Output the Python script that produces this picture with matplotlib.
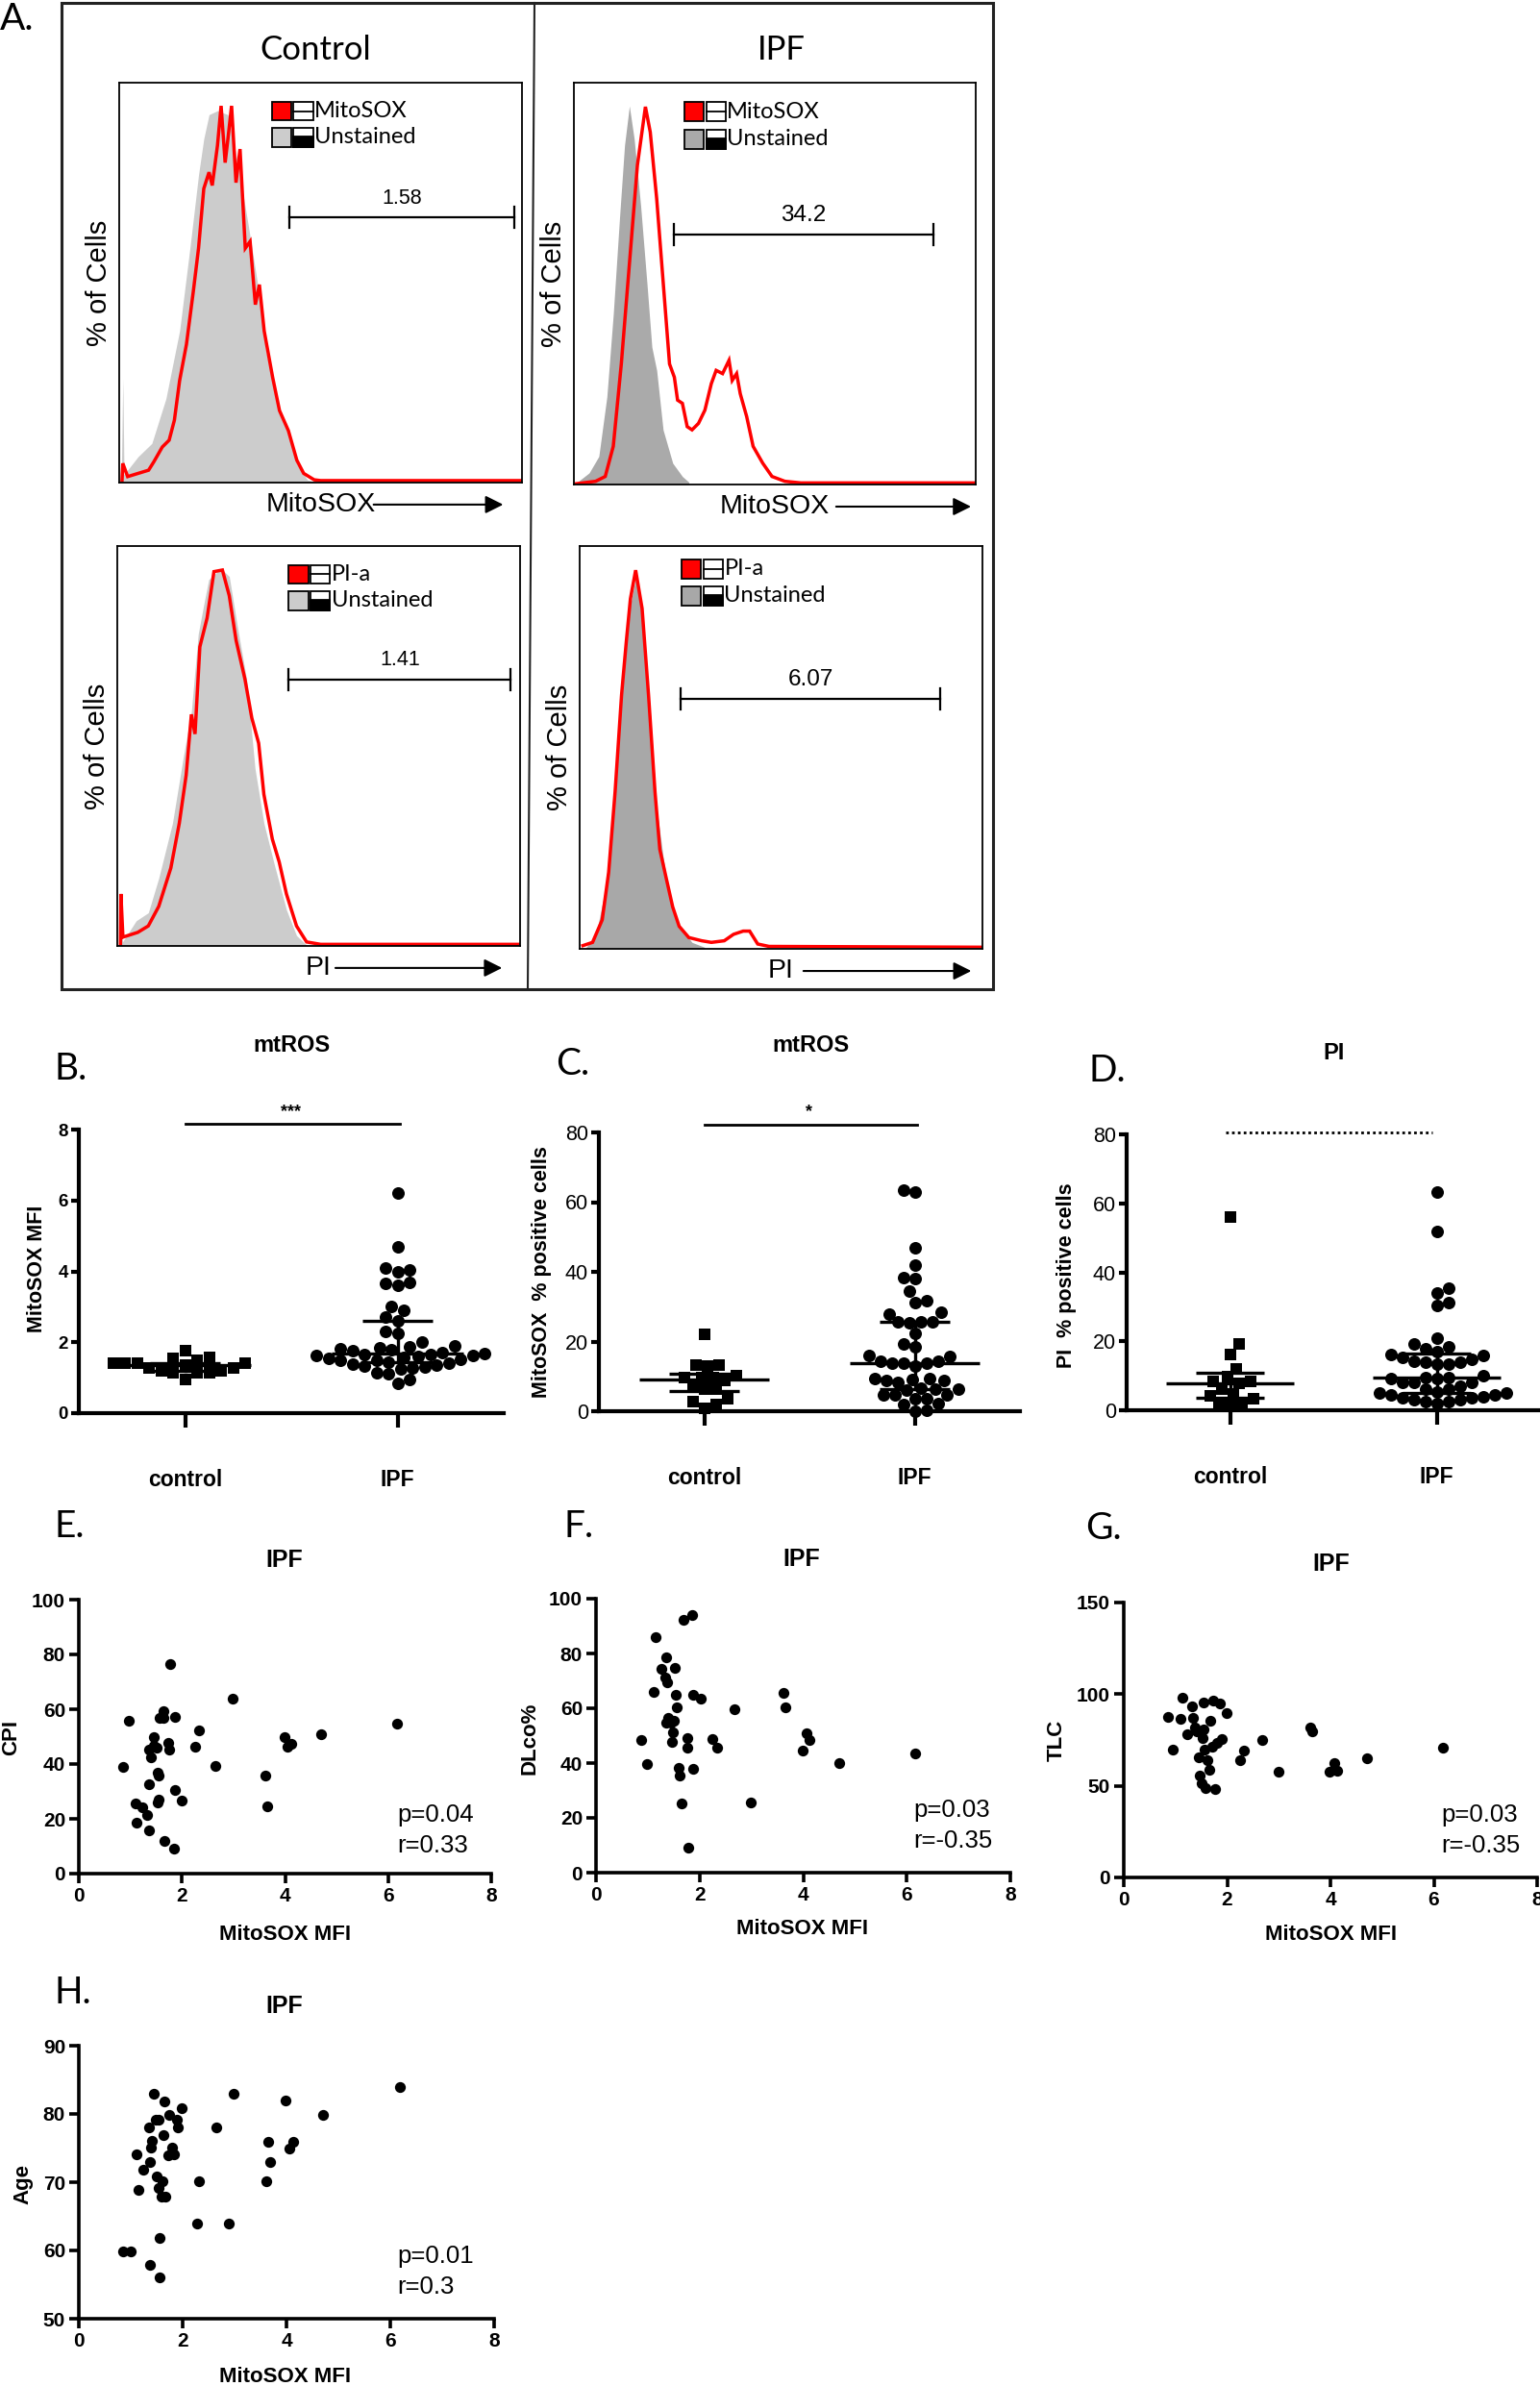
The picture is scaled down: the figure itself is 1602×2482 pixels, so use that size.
import numpy as np
import matplotlib.pyplot as plt
from matplotlib.patches import Rectangle
from matplotlib.lines import Line2D

plt.rcParams['font.family'] = 'Liberation Sans'

# ---------------- data ----------------
# flow histograms (channel % of axis, % of max)
ctrl_mito_grey_x = [0.5, 0.9, 1.2, 4.7, 8.1, 11.6, 15.0, 17.6, 19.7, 21.0, 22.3, 24.4, 27.0, 29.6, 32.1, 34.3, 36.4, 39.0, 41.6, 44.1, 46.7, 49.3]
ctrl_mito_grey_y = [0, 26, 2, 6.5, 9.8, 21, 38, 59, 77, 86, 92, 93, 92, 79, 64, 50, 33, 21, 13, 4.8, 0.7, 0]
ctrl_mito_red_x = [0.7, 0.9, 2.1, 4.7, 7.3, 8.6, 10.7, 12.4, 13.7, 15.0, 16.7, 18.4, 19.7, 21.0, 22.3, 23.1, 24.4, 25.3, 26.3, 27.0, 27.9, 29.0,
                   30.0, 31.3, 32.5, 33.8, 34.8, 36.0, 38.1, 39.8, 42.0, 44.1, 45.8, 48.4, 50.0, 99.8]
ctrl_mito_red_y = [0.5, 4.8, 1.5, 2.3, 3.1, 5.2, 8.9, 10.6, 15.6, 25.5, 34.6, 47.8, 58.6, 73.5, 77.6, 74.3, 84.3, 94.2, 80.0, 86.0, 94.2, 75.0,
                   83.4, 58.6, 60.3, 44.5, 49.5, 37.9, 26.3, 18.0, 13.0, 5.6, 2.3, 0.7, 0.5, 0.5]

ipf_mito_grey_x = [0.6, 3.8, 6.2, 8.2, 9.8, 11.4, 12.6, 13.8, 15.0, 16.6, 18.2, 19.4, 20.6, 22.2, 24.6, 27.0, 28.6]
ipf_mito_grey_y = [0.4, 2.9, 7.0, 21.8, 42.4, 67.0, 84.4, 94.2, 86.0, 69.5, 49.8, 34.2, 28.4, 13.6, 5.3, 2.0, 0.6]
ipf_mito_red_x = [0.6, 5.4, 7.8, 9.8, 11.8, 13.8, 15.8, 17.8, 19.0, 20.6, 22.2, 23.8, 25.0, 25.8, 27.0, 28.2, 29.4, 31.0, 32.6, 34.2, 35.4,
                  37.0, 38.6, 39.4, 40.5, 41.4, 43.0, 44.6, 47.0, 49.3, 52.5, 56.5, 99.6]
ipf_mito_red_y = [0.2, 0.8, 2.0, 9.5, 30.0, 54.7, 79.4, 94.0, 87.7, 71.2, 50.6, 30.0, 26.7, 21.0, 20.2, 14.4, 13.6, 15.2, 18.5, 25.1, 28.4,
                  27.6, 30.9, 25.9, 27.6, 22.6, 16.9, 9.5, 5.3, 2.0, 0.8, 0.4, 0.4]

ctrl_pi_grey_x = [0.5, 0.9, 1.3, 4.7, 7.7, 10.3, 13.7, 16.3, 18.4, 20.1, 21.4, 22.7, 25.7, 27.8, 30.0, 32.1, 34.2, 36.4, 39.0, 42.0, 44.5, 47.0]
ctrl_pi_grey_y = [0, 10, 1.0, 6.3, 8.3, 17.0, 30.7, 46.7, 58.7, 78.0, 85.0, 91.6, 94.4, 92.4, 78.8, 66.7, 44.3, 30.7, 20.3, 9.0, 2.6, 0.2]
ctrl_pi_red_x = [0.8, 0.9, 1.4, 5.1, 7.7, 10.3, 13.3, 15.4, 17.1, 18.4, 19.3, 20.5, 22.3, 24.0, 26.1, 27.8, 29.5, 31.7, 33.4, 35.1, 36.4,
                 38.5, 40.2, 42.0, 44.5, 47.0, 50.5, 99.7]
ctrl_pi_red_y = [0.4, 13.0, 2.2, 3.4, 5.0, 9.9, 19.5, 30.7, 42.7, 57.9, 53.0, 74.8, 82.0, 93.6, 94.0, 87.6, 76.4, 66.7, 57.0, 50.7, 37.9,
                 26.7, 21.0, 13.0, 5.0, 1.0, 0.4, 0.4]

ipf_pi_grey_x = [1.6, 4.0, 6.4, 8.4, 10.4, 12.4, 13.9, 15.5, 17.5, 19.1, 20.7, 22.3, 24.7, 27.9, 31.0]
ipf_pi_grey_y = [0.4, 3.2, 15.0, 35.0, 63.0, 84.5, 92.0, 82.9, 59.0, 35.0, 23.0, 12.7, 5.6, 1.6, 0.4]
ipf_pi_red_x = [0.8, 3.2, 5.6, 7.2, 8.8, 10.4, 11.6, 12.6, 13.9, 15.5, 17.1, 18.7, 19.9, 21.5, 23.1, 24.7, 27.1, 30.3, 32.7, 35.9,
                38.2, 40.6, 42.2, 44.2, 47.0, 99.6]
ipf_pi_red_y = [0.8, 1.6, 7.2, 19.0, 39.0, 63.0, 76.5, 86.9, 94.0, 84.5, 63.0, 39.0, 24.7, 17.5, 10.4, 5.6, 2.8, 2.0, 1.6, 2.0,
                3.6, 4.4, 4.4, 1.2, 0.6, 0.4]

# gates: start, end, height, % positive
gate_ctrl_mito = (42.2, 98.1, 66.3, '1.58')
gate_ipf_mito = (24.9, 89.5, 62.2, '34.2')
gate_ctrl_pi = (42.6, 97.7, 66.6, '1.41')
gate_ipf_pi = (25.1, 89.5, 62.0, '6.07')

# B: MitoSOX MFI
mfi_control = [1.40, 1.40, 1.27, 1.76, 1.18, 1.13, 1.54, 0.95, 1.27, 1.13, 1.49, 1.13, 1.58, 1.18, 1.36, 1.40, 1.40]
mfi_ipf = [6.2, 4.7, 4.1, 4.05, 4.0, 3.7, 3.65, 3.6, 3.0, 2.9, 2.7, 2.6, 2.3, 2.25, 2.0, 1.9, 1.88, 1.85, 1.82, 1.8, 1.75,
           1.72, 1.68, 1.66, 1.65, 1.64, 1.62, 1.6, 1.58, 1.55, 1.52, 1.5, 1.48, 1.45, 1.42, 1.38, 1.35, 1.32, 1.3, 1.28,
           1.25, 1.15, 1.1, 0.95, 0.85]
# C: MitoSOX % positive
mpos_control = [22.1, 10.1, 9.7, 8.7, 13.3, 12.9, 13.3, 9.7, 9.7, 7.4, 6.4, 6.4, 3.7, 2.8, 0.9, 1.8]
mpos_ipf = [63.4, 63.0, 46.9, 42.0, 38.3, 38.0, 34.5, 31.7, 31.3, 28.5, 28.0, 25.7, 25.7, 25.3, 25.7, 22.3, 19.3, 18.4,
            16.1, 15.6, 14.3, 13.8, 13.8, 13.0, 13.8, 14.3, 9.4, 8.7, 8.3, 9.2, 8.7, 9.4, 6.4, 6.4, 6.0, 6.7, 4.6, 3.7,
            4.6, 4.6, 3.7, 2.3, 1.8, 0.0, 0.3]
# D: PI % positive
pi_control = [56.1, 19.1, 16.3, 12.1, 9.8, 8.4, 8.4, 7.9, 6.0, 4.2, 4.7, 3.3, 1.4, 1.4, 1.4]
pi_ipf = [63.3, 51.9, 35.3, 34.0, 30.4, 31.2, 20.9, 19.3, 18.4, 17.9, 16.9, 16.3, 16.0, 15.3, 14.7, 14.1, 13.8, 13.5,
          13.5, 14.0, 9.5, 9.1, 10.0, 9.1, 9.5, 8.2, 8.0, 5.4, 6.0, 5.0, 4.5, 3.7, 3.5, 3.0, 2.5, 2.0, 2.5, 3.0, 4.0,
          4.5, 5.0, 6.0, 7.0, 8.0]

# E-H: correlations in IPF
mfi_E = [0.86, 0.97, 1.10, 1.12, 1.23, 1.33, 1.36, 1.36, 1.36, 1.40, 1.46, 1.46, 1.51, 1.53, 1.55, 1.55, 1.53, 1.57, 1.64, 1.64,
         1.66, 1.73, 1.75, 1.77, 1.84, 1.87, 1.87, 1.99, 2.26, 2.33, 2.65, 2.99, 3.61, 3.65, 3.99, 4.05, 4.13, 4.70, 6.18]
cpi_E = [38.9, 55.8, 25.5, 18.7, 24.3, 21.4, 45.3, 32.7, 15.8, 42.4, 50.0, 46.7, 45.9, 37.0, 35.9, 27.1, 26.0, 57.0, 59.3, 57.0,
         12.1, 47.7, 45.3, 76.5, 9.1, 57.2, 30.4, 26.6, 46.3, 52.3, 39.3, 64.0, 35.7, 24.5, 50.0, 46.3, 47.5, 50.8, 54.7]
mfi_F = [0.88, 0.98, 1.11, 1.15, 1.26, 1.33, 1.35, 1.38, 1.35, 1.39, 1.44, 1.47, 1.49, 1.51, 1.53, 1.54, 1.56, 1.59, 1.62, 1.65,
         1.68, 1.76, 1.76, 1.78, 1.86, 1.87, 1.87, 2.02, 2.24, 2.33, 2.67, 2.99, 3.62, 3.65, 3.99, 4.07, 4.12, 4.70, 6.16]
dlco_F = [48.3, 39.8, 66.1, 86.0, 74.4, 71.1, 78.7, 69.6, 54.7, 56.5, 54.7, 47.7, 51.2, 55.3, 74.9, 65.0, 60.3, 38.4, 35.5, 25.3,
          92.4, 49.2, 45.6, 9.2, 94.2, 37.8, 65.0, 63.5, 48.9, 45.6, 59.8, 25.7, 65.5, 60.5, 44.7, 50.9, 48.3, 39.9, 43.6]
mfi_G = [0.86, 0.95, 1.10, 1.13, 1.23, 1.33, 1.34, 1.37, 1.42, 1.46, 1.47, 1.51, 1.52, 1.54, 1.55, 1.56, 1.59, 1.62, 1.65, 1.67,
         1.72, 1.73, 1.77, 1.81, 1.86, 1.89, 1.99, 2.25, 2.33, 2.67, 2.99, 3.61, 3.65, 3.99, 4.08, 4.13, 4.71, 6.18]
tlc_G = [87.8, 70.0, 86.4, 98.3, 78.3, 93.5, 86.9, 81.8, 79.5, 65.6, 55.6, 51.6, 76.0, 95.6, 80.8, 70.0, 49.0, 63.8, 58.6, 85.7,
         71.3, 96.7, 48.1, 73.4, 94.7, 75.5, 89.5, 63.8, 69.1, 74.8, 57.7, 81.8, 79.5, 57.7, 62.2, 58.2, 64.8, 70.9]
mfi_H = [0.86, 1.00, 1.11, 1.15, 1.24, 1.35, 1.37, 1.38, 1.40, 1.37, 1.45, 1.49, 1.50, 1.53, 1.54, 1.56, 1.56, 1.59, 1.61, 1.63,
         1.65, 1.66, 1.72, 1.74, 1.79, 1.84, 1.88, 1.90, 1.99, 2.27, 2.32, 2.65, 2.89, 2.99, 3.61, 3.64, 3.69, 3.99, 4.06, 4.13,
         4.70, 6.18]
age_H = [59.8, 59.8, 74.1, 68.9, 71.9, 78.0, 73.0, 75.1, 76.0, 57.9, 82.9, 79.1, 70.9, 79.1, 69.1, 61.9, 56.0, 67.9, 70.1, 76.9,
         81.9, 67.9, 74.0, 79.9, 75.1, 74.1, 79.1, 78.0, 80.9, 64.0, 70.1, 78.0, 64.0, 82.9, 70.1, 75.9, 73.0, 82.0, 75.0, 75.9,
         79.9, 84.0]

# ---------------- figure helpers ----------------
W, H = 1602, 2482
fig = plt.figure(figsize=(W / 100, H / 100), dpi=100)


def box(l, t, r, b):
    return [l / W, 1 - b / H, (r - l) / W, (b - t) / H]


def ftext(x, y, s, **kw):
    kw.setdefault('ha', 'center')
    kw.setdefault('va', 'center')
    fig.text(x / W, 1 - y / H, s, **kw)


CAL = 'Lato'
LETTER = 28

# ---------------- panel A: histograms ----------------
fig.add_artist(Rectangle((64 / W, 1 - 1029 / H), (1033 - 64) / W, (1029 - 3) / H, transform=fig.transFigure,
                         fill=False, lw=2.2, ec='#222222'))
fig.add_artist(Line2D([556 / W, 549 / W], [1 - 3 / H, 1 - 1029 / H], transform=fig.transFigure, color='#222222', lw=1.5))
ftext(0, 20, 'A.', ha='left', fontsize=LETTER, family=CAL)
ftext(328, 52, 'Control', fontsize=25, family=CAL)
ftext(813, 52, 'IPF', fontsize=25, family=CAL)


def legend_sq(ax, x0, y, fc, kind):
    w, h = 0.048, 0.046
    ax.add_patch(Rectangle((x0, y - h / 2), w, h, transform=ax.transAxes, fc=fc, ec='k', lw=1.3))
    x1 = x0 + w + 0.006
    ax.add_patch(Rectangle((x1, y - h / 2), w, h, transform=ax.transAxes, fc='white', ec='k', lw=1.3))
    if kind == 'line':
        ax.plot([x1, x1 + w], [y, y], transform=ax.transAxes, color='k', lw=1.3)
    else:
        ax.add_patch(Rectangle((x1, y - h / 2), w, h * 0.55, transform=ax.transAxes, fc='k', ec='k', lw=1.3))
    return x1 + w + 0.004


def hist_panel(rect, gx, gy, rx, ry, grey, stain, gate, gsize, xname, arrow0, leg_x, leg_y):
    ax = fig.add_axes(box(*rect))
    ax.fill_between(gx, gy, color=grey, lw=0)
    ax.plot(rx, ry, color='#ff0000', lw=2.5, solid_joinstyle='miter')
    ax.set_xlim(0, 100)
    ax.set_ylim(0, 100)
    ax.set_xticks([])
    ax.set_yticks([])
    for s in ax.spines.values():
        s.set_linewidth(1.3)
    g0, g1, gh, gval = gate
    ax.plot([g0, g1], [gh, gh], color='k', lw=1.6)
    for g in (g0, g1):
        ax.plot([g, g], [gh - 2.6, gh + 2.6], color='k', lw=1.6)
    ax.text((g0 + g1) / 2, gh + 4.8, gval, ha='center', va='center', fontsize=gsize)
    tx = legend_sq(ax, leg_x, leg_y[0], '#ff0000', 'line')
    ax.text(tx, leg_y[0], stain, transform=ax.transAxes, ha='left', va='center', fontsize=17, family=CAL)
    legend_sq(ax, leg_x, leg_y[1], grey, 'half')
    ax.text(tx, leg_y[1], 'Unstained', transform=ax.transAxes, ha='left', va='center', fontsize=17, family=CAL)
    ax.text(-0.05, 0.5, '% of Cells', transform=ax.transAxes, rotation=90, ha='center', va='center', fontsize=21)
    ax.text(0.5, -0.055, xname, transform=ax.transAxes, ha='center', va='center', fontsize=20.5)
    ax.annotate('', xy=(arrow0[1], -0.055), xytext=(arrow0[0], -0.055), xycoords='axes fraction',
                arrowprops=dict(arrowstyle='-|>', color='k', lw=1.5, mutation_scale=28), annotation_clip=False)
    return ax


hist_panel((124, 86, 543, 502), ctrl_mito_grey_x, ctrl_mito_grey_y, ctrl_mito_red_x, ctrl_mito_red_y, '#cccccc',
           'MitoSOX', gate_ctrl_mito, 15.5, 'MitoSOX', (0.625, 0.96), 0.379, (0.929, 0.863))
hist_panel((597, 86, 1015, 504), ipf_mito_grey_x, ipf_mito_grey_y, ipf_mito_red_x, ipf_mito_red_y, '#aaaaaa',
           'MitoSOX', gate_ipf_mito, 17.5, 'MitoSOX', (0.646, 0.995), 0.275, (0.928, 0.859))
hist_panel((122, 568, 541, 984), ctrl_pi_grey_x, ctrl_pi_grey_y, ctrl_pi_red_x, ctrl_pi_red_y, '#cccccc',
           'PI-a', gate_ctrl_pi, 15.5, 'PI', (0.535, 0.962), 0.426, (0.930, 0.863))
hist_panel((603, 568, 1022, 987), ipf_pi_grey_x, ipf_pi_grey_y, ipf_pi_red_x, ipf_pi_red_y, '#a8a8a8',
           'PI-a', gate_ipf_pi, 17.5, 'PI', (0.549, 0.979), 0.253, (0.943, 0.876))


# ---------------- panels B-D: dot plots ----------------
def swarm_x(ax, vals, xc, gap):
    vals = np.asarray(vals, float)
    pts = ax.transData.transform(np.column_stack([np.full(vals.size, xc), vals]))
    ppu = ax.transData.transform((xc + 1, 0))[0] - ax.transData.transform((xc, 0))[0]
    order = np.argsort(vals)
    placed = []
    xs = np.empty(vals.size)
    step = gap / 4
    for n, i in enumerate(order):
        py = pts[i, 1]
        off = 0.0
        for k in range(400):
            found = False
            for sgn in ((1, -1) if n % 2 else (-1, 1)):
                off = sgn * k * step
                if all((off - ox) ** 2 + (py - oy) ** 2 >= gap ** 2 for ox, oy in placed):
                    found = True
                    break
            if found:
                break
        placed.append((off, py))
        xs[i] = xc + off / ppu
    return xs


def style_axes(ax, lw):
    for s in ('top', 'right'):
        ax.spines[s].set_visible(False)
    for s in ('left', 'bottom'):
        ax.spines[s].set_linewidth(lw)
    ax.tick_params(width=lw, color='k')


def dot_panel(rect, ctrl, ipf, ymax, yticks, bold, tsize, gap):
    ax = fig.add_axes(box(*rect))
    ax.set_xlim(0.5, 2.5)
    ax.set_ylim(0, ymax)
    ax.set_yticks(yticks)
    ax.set_xticks([1, 2], ['control', 'IPF'])
    style_axes(ax, 3)
    ax.tick_params(axis='y', length=6, pad=2, labelsize=tsize)
    ax.tick_params(axis='x', length=11, pad=31, labelsize=16.5)
    for lab in ax.get_xticklabels():
        lab.set_fontweight('bold')
    for lab in ax.get_yticklabels():
        lab.set_fontweight('bold' if bold else 'normal')
    for xc, vals, mk, sz in ((1, ctrl, 's', 72), (2, ipf, 'o', 88)):
        xs = swarm_x(ax, vals, xc, gap)
        ax.scatter(xs, vals, marker=mk, s=sz, color='k', lw=0, clip_on=False, zorder=3)
        q1, med, q3 = np.percentile(vals, [25, 50, 75])
        ax.plot([xc - 0.31, xc + 0.31], [med, med], color='k', lw=2.4, zorder=4, solid_capstyle='butt')
        ax.plot([xc - 0.165, xc + 0.165], [q1, q1], color='k', lw=2.4, zorder=4, solid_capstyle='butt')
        ax.plot([xc - 0.165, xc + 0.165], [q3, q3], color='k', lw=2.4, zorder=4, solid_capstyle='butt')
        ax.plot([xc, xc], [q1, q3], color='k', lw=2.4, zorder=4)
    return ax


axB = dot_panel((82, 1175, 524, 1470), mfi_control, mfi_ipf, 8, [0, 2, 4, 6, 8], True, 13.5, 12.5)
axB.plot([1, 2.01], [8.16, 8.16], color='k', lw=2, clip_on=False)
axB.text(1.5, 8.5, '***', ha='center', va='center', fontsize=13, fontweight='bold')
ftext(303, 1088, 'mtROS', fontsize=17, fontweight='bold')
ftext(57, 1112, 'B.', ha='left', fontsize=LETTER, family=CAL)
ftext(38, 1320, 'MitoSOX MFI', rotation=90, fontsize=15.5, fontweight='bold')

axC = dot_panel((623, 1178, 1061, 1468), mpos_control, mpos_ipf, 80, [0, 20, 40, 60, 80], False, 15.5, 12)
axC.plot([1, 2.01], [82.1, 82.1], color='k', lw=2, clip_on=False)
axC.text(1.5, 86, '*', ha='center', va='center', fontsize=13, fontweight='bold')
ftext(843, 1087, 'mtROS', fontsize=17, fontweight='bold')
ftext(578, 1107, 'C.', ha='left', fontsize=LETTER, family=CAL)
ftext(564, 1323, 'MitoSOX  % positive cells', rotation=90, fontsize=15.5, fontweight='bold')

axD = dot_panel((1172, 1180, 1602, 1467), pi_control, pi_ipf, 80, [0, 20, 40, 60, 80], False, 15.5, 12)
axD.plot([0.98, 1.98], [80.65, 80.65], color='k', lw=2, ls=(0, (1, 1.2)), clip_on=False)
ftext(1388, 1095, 'PI', fontsize=17, fontweight='bold')
ftext(1133, 1114, 'D.', ha='left', fontsize=LETTER, family=CAL)
ftext(1110, 1327, 'PI  % positive cells', rotation=90, fontsize=15.5, fontweight='bold')


# ---------------- panels E-H: correlations ----------------
def corr_panel(rect, xv, yv, ylim, yticks, ylabel, ylab_xy, title_xy, stats_xy, p, r, xlab_y):
    ax = fig.add_axes(box(*rect))
    ax.scatter(xv, yv, s=66, color='k', lw=0, clip_on=False, zorder=3)
    ax.set_xlim(0, 8)
    ax.set_ylim(*ylim)
    ax.set_xticks([0, 2, 4, 6, 8])
    ax.set_yticks(yticks)
    style_axes(ax, 2.6)
    ax.tick_params(length=7, pad=3, labelsize=15)
    for lab in ax.get_yticklabels() + ax.get_xticklabels():
        lab.set_fontweight('bold')
    ftext(*ylab_xy, ylabel, rotation=90, fontsize=16, fontweight='bold')
    ftext(*title_xy, 'IPF', fontsize=18, fontweight='bold')
    ftext(stats_xy[0], stats_xy[1], p, ha='left', fontsize=18.5)
    ftext(stats_xy[0], stats_xy[1] + 32, r, ha='left', fontsize=18.5)
    ftext(title_xy[0], xlab_y, 'MitoSOX MFI', fontsize=16, fontweight='bold')
    return ax


corr_panel((82, 1664, 511, 1949), mfi_E, cpi_E, (0, 100), [0, 20, 40, 60, 80, 100], 'CPI', (12, 1808),
           (296, 1623), (413, 1888), 'p=0.04', 'r=0.33', 2013)
ftext(57, 1588, 'E.', ha='left', fontsize=LETTER, family=CAL)

corr_panel((620, 1663, 1051, 1948), mfi_F, dlco_F, (0, 100), [0, 20, 40, 60, 80, 100], 'DLco%', (551, 1808),
           (834, 1622), (950, 1883), 'p=0.03', 'r=-0.35', 2006)
ftext(587, 1588, 'F.', ha='left', fontsize=LETTER, family=CAL)

corr_panel((1169, 1667, 1599, 1953), mfi_G, tlc_G, (0, 150), [0, 50, 100, 150], 'TLC', (1099, 1810),
           (1385, 1627), (1499, 1888), 'p=0.03', 'r=-0.35', 2012)
ftext(1129, 1590, 'G.', ha='left', fontsize=LETTER, family=CAL)

corr_panel((82, 2128, 514, 2412), mfi_H, age_H, (50, 90), [50, 60, 70, 80, 90], 'Age', (24, 2272),
           (296, 2087), (413, 2347), 'p=0.01', 'r=0.3', 2473)
ftext(57, 2073, 'H.', ha='left', fontsize=LETTER, family=CAL)

fig.savefig('out.png', dpi=100)
